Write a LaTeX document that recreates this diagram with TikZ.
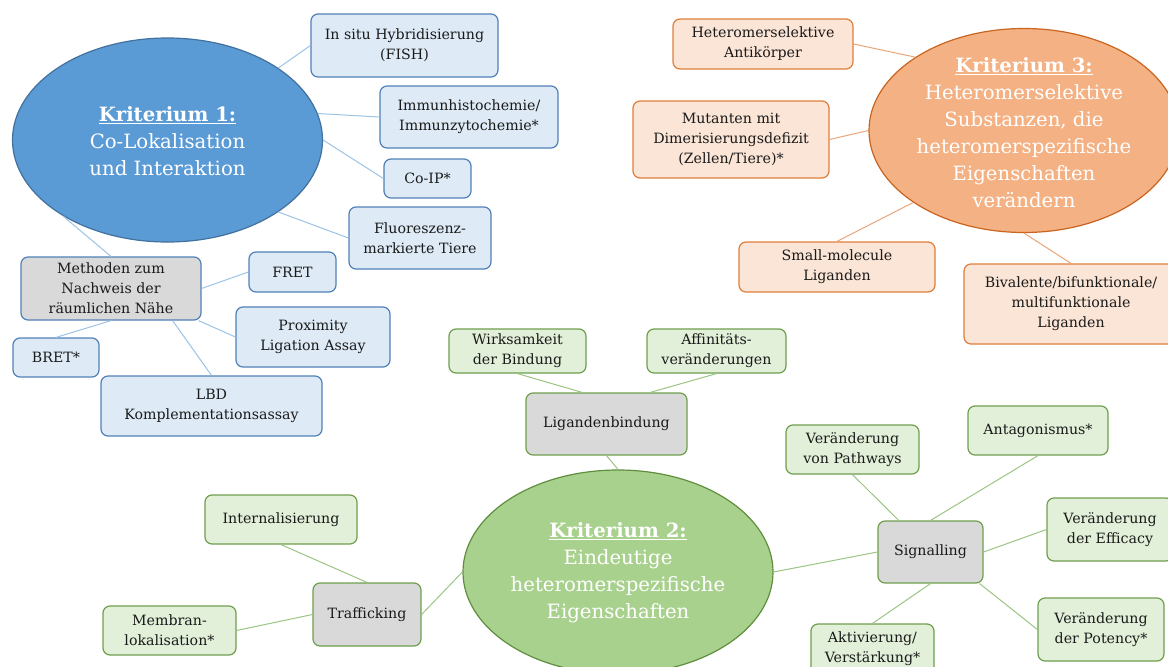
\documentclass[tikz,border=0pt]{standalone}
\usepackage{fontspec}
\setmainfont{DejaVu Serif}
\usetikzlibrary{shapes.geometric,calc}

% palette
\definecolor{blueFill}{HTML}{DEEBF7}
\definecolor{blueLine}{HTML}{5080B8}
\definecolor{blueConn}{HTML}{9DC3E6}
\definecolor{blueOval}{HTML}{5B9BD5}
\definecolor{blueOvalLine}{HTML}{41719C}
\definecolor{orangeFill}{HTML}{FBE5D6}
\definecolor{orangeLine}{HTML}{DF7E3A}
\definecolor{orangeConn}{HTML}{EBA57A}
\definecolor{orangeOval}{HTML}{F4B183}
\definecolor{orangeOvalLine}{HTML}{C9651F}
\definecolor{greenFill}{HTML}{E2F0D9}
\definecolor{greenLine}{HTML}{6F9F4E}
\definecolor{greenConn}{HTML}{9CC583}
\definecolor{greenOval}{HTML}{A9D18E}
\definecolor{greenOvalLine}{HTML}{5F8F3E}
\definecolor{grayFill}{HTML}{D9D9D9}
\definecolor{ink}{HTML}{1A1A1A}

\begin{document}
\begin{tikzpicture}[x=1pt,y=-1pt,
  wh/.style 2 args={minimum width=#1pt, minimum height=#2pt},
  box/.style={rounded corners=7pt, line width=1.2pt, align=center, inner sep=0pt,
    text=ink, font=\fontsize{14.2}{20}\selectfont},
  bluebox/.style={box, draw=blueLine, fill=blueFill},
  bluehub/.style={box, draw=blueLine, fill=grayFill},
  orangebox/.style={box, draw=orangeLine, fill=orangeFill},
  greenbox/.style={box, draw=greenLine, fill=greenFill},
  greenhub/.style={box, draw=greenLine, fill=grayFill},
  oval/.style={ellipse, line width=1.2pt, inner sep=0pt, wh={310}{204}},
  ovaltext/.style={align=center, text=white, inner sep=0pt,
    font=\fontsize{19.7}{27}\selectfont},
  bconn/.style={draw=blueConn, line width=1pt},
  oconn/.style={draw=orangeConn, line width=1pt},
  gconn/.style={draw=greenConn, line width=1pt}]

\useasboundingbox (0,0) rectangle (1168,667);
\clip (0,0) rectangle (1168,667);
\fill[white] (0,0) rectangle (1168,667);

% ---------- Kriterium 1 ----------
\node[oval, draw=blueOvalLine, fill=blueOval] (k1) at (167.5,140) {};
\node[ovaltext] (k1t) at ($(k1.center)+(0,1)$)
  {\underline{\textbf{Kriterium 1:}}\\Co-Lokalisation\\und Interaktion};

\node[bluebox, wh={187}{63}] (fish) at (404.5,45.5) {In situ Hybridisierung\\(FISH)};
\node[bluebox, wh={178}{62}] (immun) at (469,117) {Immunhistochemie/\\Immunzytochemie*};
\node[bluebox, wh={87}{39}] (coip) at (427.5,178.5) {Co-IP*};
\node[bluebox, wh={142}{62}] (fluor) at (420,238) {Fluoreszenz-\\markierte Tiere};
\node[bluehub, wh={180}{63}] (nah) at (111,288.5) {Methoden zum\\Nachweis der\\räumlichen Nähe};
\node[bluebox, wh={87}{40}] (fret) at (292.5,272) {FRET};
\node[bluebox, wh={154}{60}] (pla) at (313,337) {Proximity\\Ligation Assay};
\node[bluebox, wh={86}{39}] (bret) at (56,357.5) {BRET*};
\node[bluebox, wh={221}{60}] (lbd) at (211.5,406) {LBD\\Komplementationsassay};

\draw[bconn] (k1.33) -- (fish.west);
\draw[bconn] (k1.10) -- (immun.west);
\draw[bconn] (k1.0) -- (coip.west);
\draw[bconn] (k1.-33) -- (fluor.west);
\draw[bconn] (k1.-144) -- (nah.north);
\draw[bconn] (nah.east) -- (fret.west);
\draw[bconn] ($(nah.south east)+(-3,0)$) -- (pla.west);
\draw[bconn] (nah.south) -- (bret.north);
\draw[bconn] ($(nah.south)!0.68!(nah.south east)$) -- (lbd.north);

% ---------- Kriterium 3 ----------
\node[oval, draw=orangeOvalLine, fill=orangeOval] (k3) at (1024,130.5) {};
\node[ovaltext] (k3t) at ($(k3.center)+(0,2)$)
  {\underline{\textbf{Kriterium 3:}}\\Heteromerselektive\\Substanzen, die\\heteromerspezifische\\Eigenschaften\\verändern};

\node[orangebox, wh={180}{50}] (antik) at (763,44) {Heteromerselektive\\Antikörper};
\node[orangebox, wh={196}{77}] (mut) at (731,139.5) {Mutanten mit\\Dimerisierungsdefizit\\(Zellen/Tiere)*};
\node[orangebox, wh={196}{50}] (small) at (837,267) {Small-molecule\\Liganden};
\node[orangebox, wh={214}{80}] (bival) at (1071,304) {Bivalente/bifunktionale/\\multifunktionale\\Liganden};

\draw[oconn] (antik.east) -- (k3.146);
\draw[oconn] (mut.east) -- (k3.west);
\draw[oconn] (small.north) -- (k3.-147);
\draw[oconn] (k3.south) -- (bival.north);

% ---------- Kriterium 2 ----------
\node[oval, draw=greenOvalLine, fill=greenOval] (k2) at (618,572) {};
\node[ovaltext] (k2t) at ($(k2.center)+(0,1)$)
  {\underline{\textbf{Kriterium 2:}}\\Eindeutige\\heteromerspezifische\\Eigenschaften};

% ligand binding branch
\node[greenhub, wh={161}{62}] (lig) at (606.5,424) {Ligandenbindung};
\node[greenbox, wh={137}{44}] (wirk) at (517.5,351) {Wirksamkeit\\der Bindung};
\node[greenbox, wh={139}{44}] (affin) at (716.5,351) {Affinitäts-\\veränderungen};
\draw[gconn] (wirk.south) -- ($(lig.north west)!0.35!(lig.north east)$);
\draw[gconn] (affin.south) -- ($(lig.north west)!0.77!(lig.north east)$);
\draw[gconn] (lig.south) -- (k2.north);

% trafficking branch
\node[greenhub, wh={108}{63}] (traf) at (367,614.5) {Trafficking};
\node[greenbox, wh={152}{49}] (intern) at (281,519.5) {Internalisierung};
\node[greenbox, wh={133}{49}] (membr) at (169.5,630.5) {Membran-\\lokalisation*};
\draw[gconn] (intern.south) -- (traf.north);
\draw[gconn] (membr.east) -- (traf.west);
\draw[gconn] (traf.east) -- (k2.west);

% signalling branch
\node[greenhub, wh={105}{62}] (sig) at (930.5,552) {Signalling};
\node[greenbox, wh={133}{49}] (path) at (852.5,449.5) {Veränderung\\von Pathways};
\node[greenbox, wh={140}{49}] (antag) at (1038,430.5) {Antagonismus*};
\node[greenbox, wh={126}{63}] (effic) at (1110,529.5) {Veränderung\\der Efficacy};
\node[greenbox, wh={126}{63}] (poten) at (1101,629.5) {Veränderung\\der Potency*};
\node[greenbox, wh={123}{50}] (aktiv) at (872.5,649) {Aktivierung/\\Verstärkung*};
\draw[gconn] (path.south) -- ($(sig.north west)!0.2!(sig.north east)$);
\draw[gconn] (antag.south) -- (sig.north);
\draw[gconn] (effic.west) -- (sig.east);
\draw[gconn] (poten.west) -- ($(sig.south east)+(-4,0)$);
\draw[gconn] (aktiv.north) -- (sig.south);
\draw[gconn] (sig.west) -- (k2.east);

\end{tikzpicture}
\end{document}
